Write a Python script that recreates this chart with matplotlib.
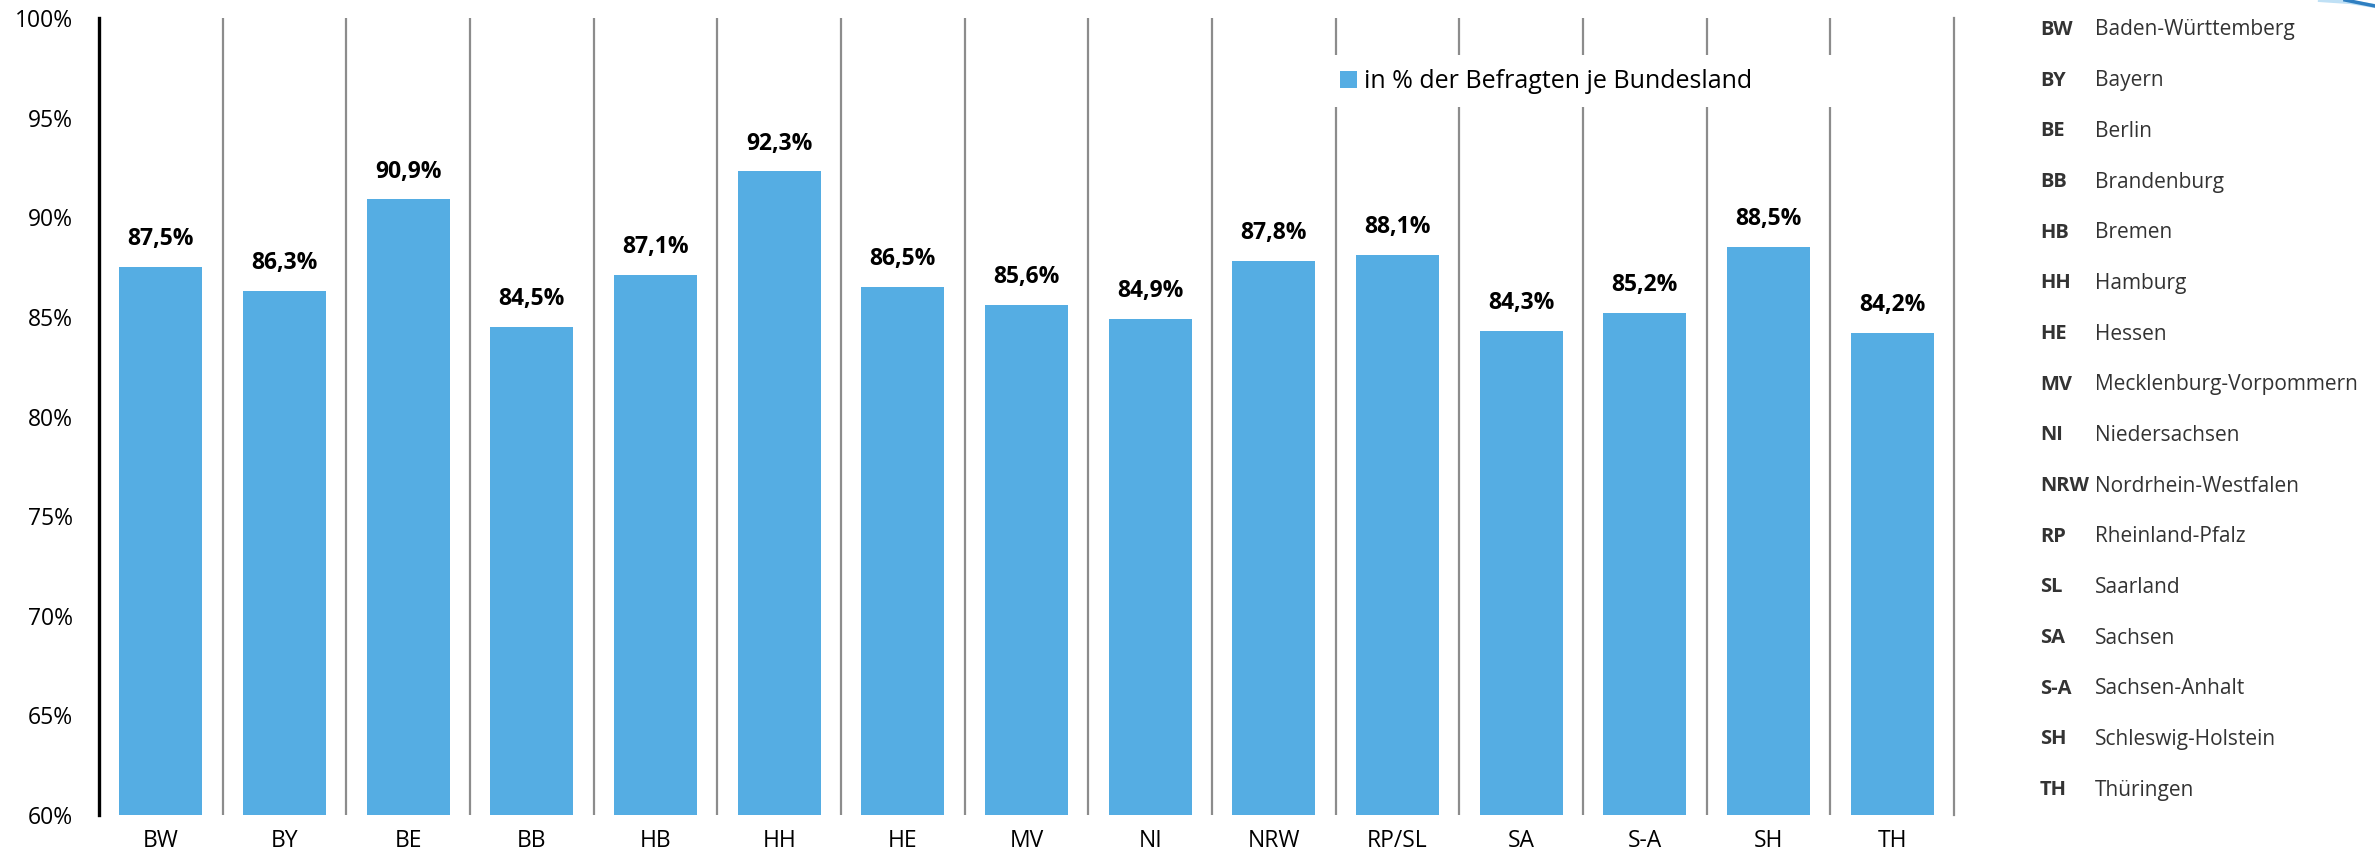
import matplotlib
matplotlib.use("Agg")
import matplotlib.pyplot as plt
from matplotlib.patches import Rectangle
from matplotlib.lines import Line2D

# ---- data ----
categories = ["BW", "BY", "BE", "BB", "HB", "HH", "HE", "MV", "NI", "NRW",
              "RP/SL", "SA", "S-A", "SH", "TH"]
values = [87.5, 86.3, 90.9, 84.5, 87.1, 92.3, 86.5, 85.6, 84.9, 87.8,
          88.1, 84.3, 85.2, 88.5, 84.2]
series_name = "in % der Befragten je Bundesland"
y_ticks = [60, 65, 70, 75, 80, 85, 90, 95, 100]
key_abbr = ["BW", "BY", "BE", "BB", "HB", "HH", "HE", "MV", "NI", "NRW",
            "RP", "SL", "SA", "S-A", "SH", "TH"]
key_names = ["Baden-Württemberg", "Bayern", "Berlin", "Brandenburg", "Bremen",
             "Hamburg", "Hessen", "Mecklenburg-Vorpommern", "Niedersachsen",
             "Nordrhein-Westfalen", "Rheinland-Pfalz", "Saarland", "Sachsen",
             "Sachsen-Anhalt", "Schleswig-Holstein", "Thüringen"]

BAR = "#55ADE3"
GRID = "#8C8C8C"
FONT = "Open Sans"
plt.rcParams["font.family"] = [FONT, "DejaVu Sans"]

W, H = 2375, 857
fig = plt.figure(figsize=(W / 100, H / 100), dpi=100)
fig.patch.set_facecolor("white")

def fx(px):
    return px / W

def fy(py):
    return 1 - py / H

ax_l, ax_r, ax_t, ax_b = 99, 1954, 18, 815
ax = fig.add_axes([fx(ax_l), fy(ax_b), fx(ax_r - ax_l), (ax_b - ax_t) / H])

x = list(range(len(categories)))
ax.bar(x, values, width=0.67, color=BAR, zorder=2)

ax.set_xlim(-0.5, len(categories) - 0.5)
ax.set_ylim(60, 100)
ax.set_yticks(y_ticks)
ax.set_yticklabels([f"{t}%" for t in y_ticks], fontsize=16.5, color="black")
ax.set_xticks(x)
ax.set_xticklabels(categories, fontsize=16.5, color="black")
ax.tick_params(axis="both", length=0)
ax.tick_params(axis="y", pad=19)
ax.tick_params(axis="x", pad=10)

# vertical separators
ax.set_xticks([i + 0.5 for i in range(len(categories) - 1)], minor=True)
ax.tick_params(axis="x", which="minor", length=0)
ax.grid(True, axis="x", which="minor", color=GRID, linewidth=1.6, zorder=0)
ax.set_axisbelow(True)

for side in ["top", "bottom"]:
    ax.spines[side].set_visible(False)
ax.spines["left"].set_color("black")
ax.spines["left"].set_linewidth(2.4)
ax.spines["right"].set_color(GRID)
ax.spines["right"].set_linewidth(1.6)

# data labels
for xi, v in zip(x, values):
    ax.annotate(f"{v:.1f}".replace(".", ",") + "%", xy=(xi, v),
                xytext=(0, 20), textcoords="offset points",
                ha="center", va="center", fontsize=16.5, fontweight="bold",
                color="black")

# legend with white background
bg = Rectangle((fx(1318), fy(107)), fx(1845 - 1318), (107 - 55) / H,
               transform=fig.transFigure, facecolor="white", edgecolor="none",
               zorder=3)
fig.patches.append(bg)
handle = Rectangle((0, 0), 1, 1, facecolor=BAR, edgecolor="none")
leg = fig.legend([handle], [series_name], loc="center left",
                 bbox_to_anchor=(fx(1340), fy(82)), frameon=False,
                 fontsize=18, handlelength=0.66, handleheight=0.66,
                 handletextpad=0.3, borderpad=0, borderaxespad=0)
leg.set_zorder(4)

# right-hand key
y0, step = 30, 50.67
for i, (a, n) in enumerate(zip(key_abbr, key_names)):
    yy = fy(y0 + i * step)
    fig.text(fx(2040), yy, a, fontsize=14.5, fontweight="bold",
             color="#333333", va="center", ha="left")
    fig.text(fx(2095), yy, n, fontsize=15, color="#333333",
             va="center", ha="left")

# decorative swoosh in the top right corner
fig.lines.append(Line2D([fx(2320), fx(2350), fx(2375)],
                        [fy(0), fy(2), fy(6)], transform=fig.transFigure,
                        color="#BFE0F5", linewidth=3))
fig.lines.append(Line2D([fx(2345), fx(2360), fx(2375)],
                        [fy(0), fy(3), fy(6)], transform=fig.transFigure,
                        color="#2F7FC1", linewidth=2.5))

fig.savefig("out.png", dpi=100, facecolor="white")
